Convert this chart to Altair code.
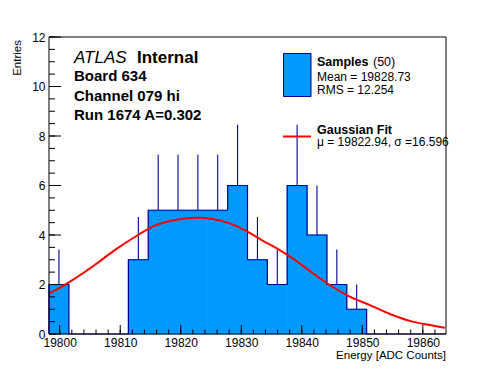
import altair as alt
import pandas as pd

FONT = "Liberation Sans"
W, H = 397, 297

# Histogram (20 bins)
bin_edges = [19798.23, 19801.51, 19804.79, 19808.07, 19811.35, 19814.63, 19817.91,
             19821.19, 19824.47, 19827.75, 19831.03, 19834.31, 19837.59, 19840.87,
             19844.15, 19847.43, 19850.71, 19853.99, 19857.27, 19860.55, 19863.83]
counts = [2, 0, 0, 0, 3, 5, 5, 5, 5, 6, 3, 2, 6, 4, 2, 1, 0, 0, 0, 0]
err_upper = [3.41, 0, 0, 0, 4.73, 7.24, 7.24, 7.24, 7.24, 8.45, 4.73, 3.41, 8.45,
             6.0, 3.41, 2.0, 0, 0, 0, 0]

# Gaussian fit curve
curve_x = [19798.35, 19801.65, 19805.79, 19809.09, 19812.94, 19815.70, 19819.55,
           19822.60, 19825.34, 19828.10, 19830.86, 19833.60, 19836.36, 19839.12,
           19841.32, 19844.63, 19847.93, 19851.24, 19854.55, 19857.85, 19861.16,
           19863.64]
curve_y = [1.64, 2.11, 2.79, 3.39, 4.00, 4.38, 4.63, 4.70, 4.65, 4.47, 4.16, 3.76,
           3.39, 2.95, 2.55, 1.98, 1.51, 1.17, 0.81, 0.53, 0.36, 0.25]

x_major = [19800, 19810, 19820, 19830, 19840, 19850, 19860]
x_minor = [19800, 19802, 19804, 19806, 19808, 19810, 19812, 19814, 19816, 19818,
           19820, 19822, 19824, 19826, 19828, 19830, 19832, 19834, 19836, 19838,
           19840, 19842, 19844, 19846, 19848, 19850, 19852, 19854, 19856, 19858,
           19860, 19862]
y_major = [0, 2, 4, 6, 8, 10, 12]
y_minor = [v * 0.5 for v in range(0, 25)]

FILL = "#0099ff"
LINE = "#000099"

bins = pd.DataFrame({
    "lo": bin_edges[:-1], "hi": bin_edges[1:], "count": counts, "top": err_upper,
})
bins["center"] = (bins["lo"] + bins["hi"]) / 2
filled = bins[bins["count"] > 0]

step = pd.DataFrame({
    "x": [bin_edges[0]] + bin_edges,
    "y": [0] + counts + [counts[-1]],
})
step["i"] = range(len(step))

curve = pd.DataFrame({"x": curve_x, "y": curve_y})

xs = alt.Scale(domain=[bin_edges[0], bin_edges[-1]], nice=False, zero=False)
ys = alt.Scale(domain=[0, 12], nice=False, zero=False)

xaxis = alt.Axis(values=x_major, format="d", labelFont=FONT, labelFontSize=12,
                 labelColor="black", labelPadding=3, labelFlush=False,
                 labelOverlap=False, ticks=False, tickSize=0, domain=False,
                 grid=False, title=None)
yaxis = alt.Axis(values=y_major, format="d", labelFont=FONT, labelFontSize=12,
                 labelColor="black", labelPadding=4, labelOverlap=False,
                 ticks=False, tickSize=0, domain=False, grid=False, title=None)


def X(f):
    return alt.X(f, type="quantitative", scale=xs, axis=xaxis)


def Y(f):
    return alt.Y(f, type="quantitative", scale=ys, axis=yaxis, stack=None)


# filled histogram: one rect per bin, with a same-colour stroke to hide seams
bars = alt.Chart(filled).mark_rect(fill=FILL, stroke=FILL, strokeWidth=0.8).encode(
    x=X("lo"), x2="hi", y=Y("count"), y2=alt.value(H))

outline = alt.Chart(step).mark_line(color=LINE, strokeWidth=1.2,
                                    interpolate="step-after").encode(
    x=X("x"), y=Y("y"), order="i:Q")

errs = alt.Chart(filled).mark_rule(color=LINE, strokeWidth=1.1).encode(
    x=X("center"), y=Y("count"), y2="top")

fit = alt.Chart(curve).mark_line(color="#ff0000", strokeWidth=2,
                                 interpolate="monotone").encode(
    x=X("x"), y=Y("y"))

xmaj = alt.Chart(pd.DataFrame({"v": x_major})).mark_rule(color="black").encode(
    x=X("v"), y=alt.value(H), y2=alt.value(H - 9))
xmin = alt.Chart(pd.DataFrame({"v": x_minor})).mark_rule(color="black").encode(
    x=X("v"), y=alt.value(H), y2=alt.value(H - 4.5))
ymaj = alt.Chart(pd.DataFrame({"v": y_major})).mark_rule(color="black").encode(
    y=Y("v"), x=alt.value(0), x2=alt.value(12))
ymin = alt.Chart(pd.DataFrame({"v": y_minor})).mark_rule(color="black").encode(
    y=Y("v"), x=alt.value(0), x2=alt.value(6))

one = pd.DataFrame({"k": [0]})

frame = alt.Chart(one).mark_rect(fill="white", fillOpacity=0, stroke="black",
                                 strokeWidth=1).encode(
    x=alt.value(0), x2=alt.value(W), y=alt.value(0), y2=alt.value(H))

leg_box = alt.Chart(one).mark_rect(fill=FILL, stroke=LINE, strokeWidth=1).encode(
    x=alt.value(234.5), x2=alt.value(262), y=alt.value(16.5), y2=alt.value(59.5))
leg_line = alt.Chart(one).mark_rule(color="#ff0000", strokeWidth=2).encode(
    x=alt.value(234), x2=alt.value(262), y=alt.value(99.5))


def label(text, x, y, size, weight="normal", style="normal", align="left",
          baseline="alphabetic", angle=0):
    return alt.Chart(one).mark_text(
        text=text, font=FONT, fontSize=size, fontWeight=weight, fontStyle=style,
        align=align, baseline=baseline, angle=angle, color="black").encode(
        x=alt.value(x), y=alt.value(y))


texts = [
    label("ATLAS", 25, 26, 17, style="italic"),
    label("Internal", 88, 26, 17, weight="bold"),
    label("Board 634", 25, 44, 15, weight="bold"),
    label("Channel 079 hi", 25, 63.5, 15, weight="bold"),
    label("Run 1674 A=0.302", 25, 83, 15, weight="bold"),
    label("Samples", 268, 24.5, 12.5, weight="bold", baseline="middle"),
    label("(50)", 324, 24.5, 12.5, baseline="middle"),
    label("Mean = 19828.73", 268, 39.5, 12, baseline="middle"),
    label("RMS = 12.254", 268, 53, 12, baseline="middle"),
    label("Gaussian Fit", 268, 92.5, 12.5, weight="bold", baseline="middle"),
    label("\u03bc = 19822.94, \u03c3 =16.596", 268, 104.5, 12, baseline="middle"),
    label("Energy [ADC Counts]", W, 322, 11.5, align="right"),
    label("Entries", -31, 3, 11.5, align="right", baseline="middle", angle=270),
]

chart = alt.layer(
    bars, outline, errs, fit, xmin, xmaj, ymin, ymaj, frame, leg_box, leg_line,
    *texts
).properties(
    width=W, height=H,
    autosize=alt.AutoSizeParams(type="none"),
    padding={"left": 41, "top": 29, "right": 42, "bottom": 30},
    background="white",
).configure_view(strokeWidth=0)

chart.save("out.html", embed_options={"renderer": "svg", "actions": False})
